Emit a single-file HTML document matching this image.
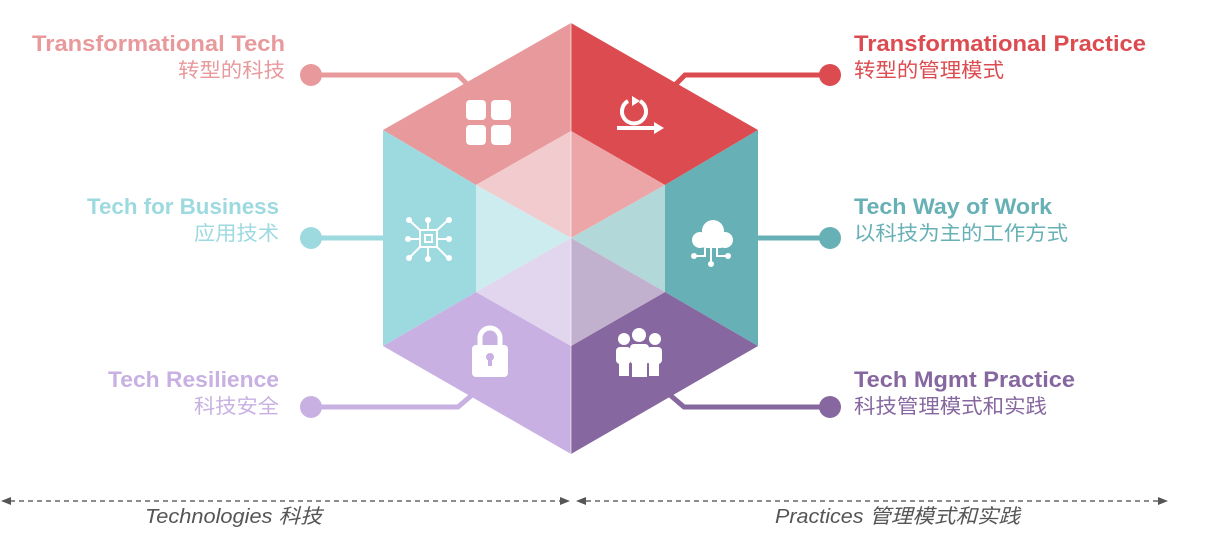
<!DOCTYPE html>
<html><head><meta charset="utf-8">
<style>
html,body{margin:0;padding:0;background:#fff;}
svg{display:block;}
.t{font-family:"Liberation Sans","Noto Sans CJK SC",sans-serif;font-weight:bold;font-size:22px;}
.c{font-family:"Liberation Sans","Noto Sans CJK SC",sans-serif;font-size:20px;}
.i{font-family:"Liberation Sans","Noto Sans CJK SC",sans-serif;font-style:italic;font-size:20px;fill:#555;}
</style></head>
<body>
<svg width="1212" height="543" viewBox="0 0 1212 543" xmlns="http://www.w3.org/2000/svg">
<g stroke-width="5" fill="none">
<polyline points="311,75 458,75 470,87" stroke="#E8999C"/>
<polyline points="311,238 390,238" stroke="#9DDAE0"/>
<polyline points="311,407 458,407 472,395" stroke="#C8B1E2"/>
<polyline points="830,75 685,75 673,87" stroke="#DC4B50"/>
<polyline points="830,238 750,238" stroke="#67B0B5"/>
<polyline points="830,407 684,407 670,395" stroke="#86679F"/>
</g>
<circle cx="311" cy="75" r="11" fill="#E8999C"/>
<circle cx="311" cy="238" r="11" fill="#9DDAE0"/>
<circle cx="311" cy="407" r="11" fill="#C8B1E2"/>
<circle cx="830" cy="75" r="11" fill="#DC4B50"/>
<circle cx="830" cy="238" r="11" fill="#67B0B5"/>
<circle cx="830" cy="407" r="11" fill="#86679F"/>
<polygon points="571,23 571,131 476,185 383,130" fill="#E8999C"/>
<polygon points="571,23 758,130 665,185 571,131" fill="#DC4B50"/>
<polygon points="383,130 476,185 476,292 383,346" fill="#9DDAE0"/>
<polygon points="758,130 758,346 665,292 665,185" fill="#67B0B5"/>
<polygon points="383,346 476,292 571,346 571,454" fill="#C8B1E2"/>
<polygon points="758,346 571,454 571,346 665,292" fill="#86679F"/>
<polygon points="571,131 476,185 571,238" fill="#F2CBCE"/>
<polygon points="571,131 665,185 571,238" fill="#EDA6A8"/>
<polygon points="476,185 476,292 571,238" fill="#CDECEF"/>
<polygon points="665,185 665,292 571,238" fill="#B3D8DA"/>
<polygon points="476,292 571,346 571,238" fill="#E2D6EE"/>
<polygon points="665,292 571,346 571,238" fill="#C2B1CE"/>
<line x1="571" y1="23" x2="571" y2="454" stroke="#fff" stroke-opacity="0.6" stroke-width="1"/>
<g fill="#fff">
<rect x="466" y="100" width="20" height="20" rx="4"/><rect x="491" y="100" width="20" height="20" rx="4"/>
<rect x="466" y="125" width="20" height="20" rx="4"/><rect x="491" y="125" width="20" height="20" rx="4"/>
</g>
<g stroke="#fff" stroke-width="4" fill="none">
<path d="M628,101 A12,12 0 1 0 640,101"/>
<line x1="617" y1="128" x2="655" y2="128"/>
</g>
<polygon points="654,122 664,128 654,134" fill="#fff"/>
<polygon points="632,96 640,101 632,106" fill="#fff"/>
<g stroke="#fff" stroke-width="2" fill="none">
<rect x="420" y="230" width="17" height="17"/><rect x="425" y="235" width="7" height="7"/>
<line x1="428" y1="222" x2="428" y2="230"/><line x1="428" y1="247" x2="428" y2="257"/>
<line x1="410" y1="239" x2="420" y2="239"/><line x1="437" y1="239" x2="447" y2="239"/>
<line x1="410" y1="221" x2="421" y2="231"/><line x1="447" y1="221" x2="436" y2="231"/>
<line x1="410" y1="257" x2="421" y2="246"/><line x1="447" y1="257" x2="436" y2="246"/>
</g>
<g fill="#fff">
<circle cx="428" cy="220" r="3"/><circle cx="428" cy="259" r="3"/><circle cx="408" cy="239" r="3"/><circle cx="449" cy="239" r="3"/>
<circle cx="409" cy="220" r="3"/><circle cx="449" cy="220" r="3"/><circle cx="409" cy="258" r="3"/><circle cx="449" cy="258" r="3"/>
</g>
<g fill="#fff">
<circle cx="713" cy="231" r="11"/><circle cx="700" cy="240" r="8"/><circle cx="725" cy="240" r="8"/>
<rect x="700" y="236" width="26" height="12" rx="6"/>
<circle cx="694" cy="256" r="3"/><circle cx="728" cy="256" r="3"/><circle cx="711" cy="264" r="3"/>
</g>
<g stroke="#fff" stroke-width="2" fill="none">
<polyline points="711,248 711,264"/><polyline points="705,248 705,256 694,256"/><polyline points="717,248 717,256 728,256"/>
</g>
<path d="M480,346 v-8 a10,10 0 0 1 20,0 v8" stroke="#fff" stroke-width="5" fill="none"/>
<rect x="472" y="345" width="36" height="32" rx="4" fill="#fff"/>
<circle cx="490" cy="357" r="4" fill="#C8B1E2"/><rect x="488" y="358" width="4" height="8" fill="#C8B1E2"/>
<g fill="#fff">
<circle cx="624" cy="339" r="6"/><circle cx="655" cy="339" r="6"/><circle cx="639" cy="335" r="7"/>
<rect x="616" y="347" width="15" height="17" rx="4"/><rect x="647" y="347" width="15" height="17" rx="4"/>
<rect x="619" y="360" width="10" height="16"/><rect x="649" y="360" width="10" height="16"/>
<rect x="630" y="344" width="19" height="20" rx="4"/><rect x="632" y="360" width="15" height="17"/>
</g>
<text x="32" y="51" textLength="253" lengthAdjust="spacingAndGlyphs" class="t" fill="#E8999C">Transformational Tech</text>
<text x="178" y="77" textLength="107" lengthAdjust="spacingAndGlyphs" class="c" fill="#E8999C">转型的科技</text>
<text x="87" y="214" textLength="192" lengthAdjust="spacingAndGlyphs" class="t" fill="#9DDAE0">Tech for Business</text>
<text x="194" y="240" textLength="85" lengthAdjust="spacingAndGlyphs" class="c" fill="#9DDAE0">应用技术</text>
<text x="108" y="387" textLength="171" lengthAdjust="spacingAndGlyphs" class="t" fill="#C8B1E2">Tech Resilience</text>
<text x="194" y="413" textLength="85" lengthAdjust="spacingAndGlyphs" class="c" fill="#C8B1E2">科技安全</text>
<text x="854" y="51" textLength="292" lengthAdjust="spacingAndGlyphs" class="t" fill="#DC4B50">Transformational Practice</text>
<text x="854" y="77" textLength="150" lengthAdjust="spacingAndGlyphs" class="c" fill="#DC4B50">转型的管理模式</text>
<text x="854" y="214" textLength="198" lengthAdjust="spacingAndGlyphs" class="t" fill="#67B0B5">Tech Way of Work</text>
<text x="854" y="240" textLength="214" lengthAdjust="spacingAndGlyphs" class="c" fill="#67B0B5">以科技为主的工作方式</text>
<text x="854" y="387" textLength="221" lengthAdjust="spacingAndGlyphs" class="t" fill="#86679F">Tech Mgmt Practice</text>
<text x="854" y="413" textLength="193" lengthAdjust="spacingAndGlyphs" class="c" fill="#86679F">科技管理模式和实践</text>
<g stroke="#666" stroke-width="1.5" stroke-dasharray="5,4">
<line x1="10" y1="501" x2="560" y2="501"/>
<line x1="586" y1="501" x2="1158" y2="501"/>
</g>
<g fill="#555">
<polygon points="1,501 11,497 11,505"/>
<polygon points="570,501 560,497 560,505"/>
<polygon points="576,501 586,497 586,505"/>
<polygon points="1168,501 1158,497 1158,505"/>
</g>
<text x="145" y="523" textLength="177" lengthAdjust="spacingAndGlyphs" class="i">Technologies 科技</text>
<text x="775" y="523" textLength="245" lengthAdjust="spacingAndGlyphs" class="i">Practices 管理模式和实践</text>
</svg>
</body></html>
